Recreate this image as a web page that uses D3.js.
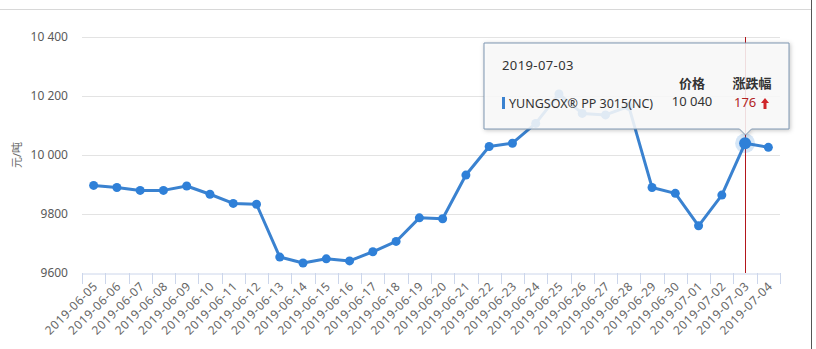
<!DOCTYPE html>
<html>
<head>
<meta charset="utf-8">
<script src="https://cdn.jsdelivr.net/npm/d3@7"></script>
<style>
  html, body { margin: 0; padding: 0; background: #fff; }
  svg { display: block; font-family: "Noto Sans", "Noto Sans CJK SC", sans-serif; }
</style>
</head>
<body>
<div id="chart"></div>
<script>
const dates = [
  '2019-06-05', '2019-06-06', '2019-06-07', '2019-06-08', '2019-06-09', '2019-06-10',
  '2019-06-11', '2019-06-12', '2019-06-13', '2019-06-14', '2019-06-15', '2019-06-16',
  '2019-06-17', '2019-06-18', '2019-06-19', '2019-06-20', '2019-06-21', '2019-06-22',
  '2019-06-23', '2019-06-24', '2019-06-25', '2019-06-26', '2019-06-27', '2019-06-28',
  '2019-06-29', '2019-06-30', '2019-07-01', '2019-07-02', '2019-07-03', '2019-07-04'
]
const prices = [
  9897, 9890, 9880, 9880, 9895, 9867,
  9836, 9833, 9654, 9634, 9648, 9641,
  9672, 9707, 9787, 9784, 9932, 10029,
  10040, 10107, 10207, 10141, 10136, 10165,
  9890, 9870, 9760, 9864, 10040, 10026
]
const yTicks = [9600, 9800, 10000, 10200, 10400]
const seriesName = 'YUNGSOX® PP 3015(NC)'
const yTitle = '元/吨'
const tipHeaders = ['价格', '涨跌幅']
const activeDate = '2019-07-03'

const width = 816
const height = 349
const margin = {top: 37, right: 36, bottom: 76, left: 82}

const data = dates.map((d, i) => ({date: d, value: prices[i]}))

const x = d3.scaleBand()
  .domain(dates)
  .range([margin.left, width - margin.right])
const y = d3.scaleLinear()
  .domain([9600, 10400])
  .range([height - margin.bottom, margin.top])

const fmt = (v) => v >= 10000 ? d3.format(',')(v).replace(',', ' ') : String(v)
const cx = (d) => x(d) + x.bandwidth() / 2

const svg = d3.select('#chart').append('svg')
  .attr('width', width)
  .attr('height', height)

// frame lines of the screenshot
svg.append('line')
  .attr('x1', 0).attr('x2', 811).attr('y1', 9.5).attr('y2', 9.5)
  .attr('stroke', '#d8d8d8')
svg.append('line')
  .attr('x1', 811.5).attr('x2', 811.5).attr('y1', 0).attr('y2', height)
  .attr('stroke', '#555')

// grid
svg.append('g')
  .selectAll('line').data(yTicks.slice(1))
  .enter().append('line')
    .attr('x1', margin.left).attr('x2', width - margin.right)
    .attr('y1', (d) => Math.round(y(d)) + 0.5)
    .attr('y2', (d) => Math.round(y(d)) + 0.5)
    .attr('stroke', '#e3e3e3')

// y axis labels
svg.append('g')
  .selectAll('text').data(yTicks)
  .enter().append('text')
    .attr('x', 68)
    .attr('y', (d) => y(d) + 4)
    .attr('text-anchor', 'end')
    .attr('font-size', 12)
    .attr('fill', '#5a5a5a')
    .text(fmt)

svg.append('text')
  .attr('transform', `translate(21, ${y(10000)}) rotate(-90)`)
  .attr('text-anchor', 'middle')
  .attr('font-size', 11)
  .attr('fill', '#666')
  .text(yTitle)

// x axis
const xAxis = svg.append('g')
  .attr('transform', `translate(0, ${Math.round(y(9600)) + 0.5})`)
  .call(d3.axisBottom(x).tickSize(0).tickFormat(''))
xAxis.select('.domain').attr('stroke', '#ccd6eb')
xAxis.selectAll('.tick').remove()

svg.append('g')
  .selectAll('line').data(dates.concat(['end']))
  .enter().append('line')
    .attr('x1', (d, i) => Math.round(i < dates.length ? x(d) : x.range()[1]) + 0.5)
    .attr('x2', (d, i) => Math.round(i < dates.length ? x(d) : x.range()[1]) + 0.5)
    .attr('y1', y(9600))
    .attr('y2', y(9600) + 11)
    .attr('stroke', '#ccd6eb')

svg.append('g')
  .selectAll('text').data(dates)
  .enter().append('text')
    .attr('transform', (d) => `translate(${cx(d) + 5}, ${y(9600) + 14}) rotate(-45)`)
    .attr('text-anchor', 'end')
    .attr('font-size', 12)
    .attr('letter-spacing', 0.6)
    .attr('fill', '#666')
    .text((d) => d)

// crosshair
svg.append('line')
  .attr('x1', Math.round(cx(activeDate)) + 0.5)
  .attr('x2', Math.round(cx(activeDate)) + 0.5)
  .attr('y1', margin.top)
  .attr('y2', y(9600))
  .attr('stroke', '#b3161b')

// series
const line = d3.line()
  .x((d) => cx(d.date))
  .y((d) => y(d.value))

svg.append('path')
  .datum(data)
  .attr('d', line)
  .attr('fill', 'none')
  .attr('stroke', '#3a82d0')
  .attr('stroke-width', 3)
  .attr('stroke-linejoin', 'round')

svg.append('g')
  .selectAll('circle').data(data.filter((d) => d.date !== activeDate))
  .enter().append('circle')
    .attr('cx', (d) => cx(d.date))
    .attr('cy', (d) => y(d.value))
    .attr('r', 4.5)
    .attr('fill', '#2f80d8')

const active = data.find((d) => d.date === activeDate)
const prev = data[dates.indexOf(activeDate) - 1]
svg.append('circle')
  .attr('cx', cx(active.date)).attr('cy', y(active.value))
  .attr('r', 10)
  .attr('fill', '#2f80d8').attr('fill-opacity', 0.2)
svg.append('circle')
  .attr('cx', cx(active.date)).attr('cy', y(active.value))
  .attr('r', 6)
  .attr('fill', '#2f80d8')

// tooltip
const tip = {left: 484, top: 43, right: 789, bottom: 129}
const ax = Math.round(cx(activeDate)) + 0.5
const tipG = svg.append('g')
tipG.append('path')
  .attr('d', `M${tip.left},${tip.top} H${tip.right} V${tip.bottom} H${ax + 6} L${ax},${tip.bottom + 6} L${ax - 6},${tip.bottom} H${tip.left} Z`)
  .attr('fill', '#fff')
  .attr('fill-opacity', 0.86)
  .attr('stroke', '#7f97b2')
  .attr('stroke-width', 1)
  .style('filter', 'drop-shadow(1px 1px 2px rgba(0,0,0,0.25))')

tipG.append('text')
  .attr('x', 502).attr('y', 70)
  .attr('font-size', 13).attr('letter-spacing', 0.4).attr('fill', '#333')
  .text(activeDate)

tipG.selectAll('.hdr').data(tipHeaders)
  .enter().append('text')
    .attr('x', (d, i) => i === 0 ? 692 : 752)
    .attr('y', 88)
    .attr('text-anchor', 'middle')
    .attr('font-size', 13).attr('font-weight', 'bold').attr('fill', '#333')
    .text((d) => d)

tipG.append('rect')
  .attr('x', 502).attr('y', 97).attr('width', 3).attr('height', 12)
  .attr('fill', '#3a82d0')
tipG.append('text')
  .attr('x', 509).attr('y', 108)
  .attr('font-size', 12.5).attr('fill', '#333')
  .text(seriesName)
tipG.append('text')
  .attr('x', 692).attr('y', 106)
  .attr('text-anchor', 'middle')
  .attr('font-size', 13).attr('fill', '#333')
  .text(fmt(active.value))
tipG.append('text')
  .attr('x', 734).attr('y', 107)
  .attr('font-size', 13).attr('fill', '#b22222')
  .text(active.value - prev.value)
tipG.append('path')
  .attr('d', 'M765,98 L769,103 L766.5,103 L766.5,109 L763.5,109 L763.5,103 L761,103 Z')
  .attr('fill', '#d0262b')
</script>
</body>
</html>
